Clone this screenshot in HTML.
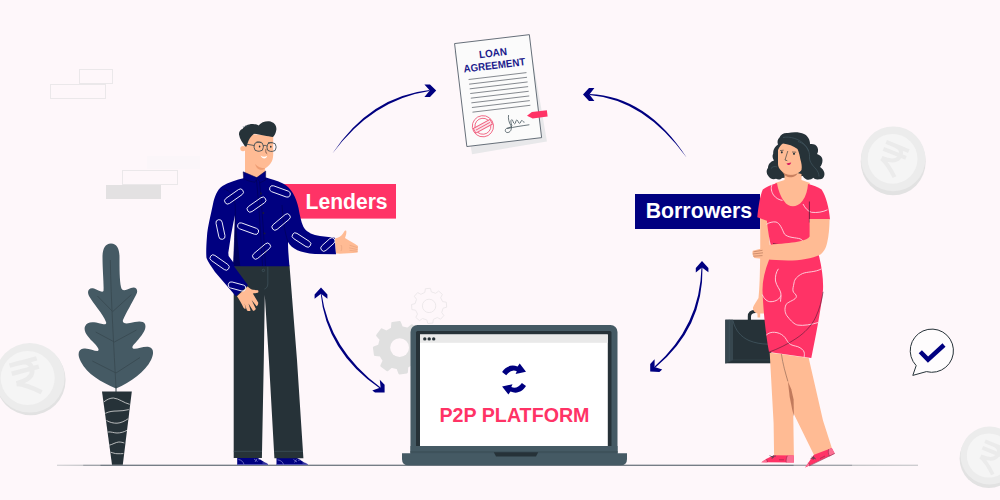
<!DOCTYPE html>
<html>
<head>
<meta charset="utf-8">
<title>P2P Lending</title>
<style>
html,body{margin:0;padding:0;}
body{width:1000px;height:500px;overflow:hidden;background:#fef7fa;font-family:"Liberation Sans",sans-serif;}
svg{display:block;position:absolute;left:0;top:0;}
text{font-family:"Liberation Sans",sans-serif;font-weight:bold;}
</style>
</head>
<body>
<svg width="1000" height="500" viewBox="0 0 1000 500">
<rect width="1000" height="500" fill="#fef7fa"/>

<!-- BRICKS -->
<g id="bricks" fill="none" stroke="#ebe8ea" stroke-width="1">
  <rect x="79.500" y="69.500" width="33" height="14"/>
  <rect x="50.500" y="84.500" width="55" height="14"/>
  <rect x="122.500" y="170.500" width="55" height="14"/>
  <rect x="147" y="156" width="53" height="13" fill="#fbf6f9" stroke="none"/>
  <rect x="106" y="185" width="55" height="14" fill="#e3e1e2" stroke="none"/>
</g>

<!-- COINS -->
<g id="coins">
  <g>
    <ellipse cx="30.600" cy="380" rx="35" ry="35.200" fill="#e2e2e2"/>
    <ellipse cx="29.800" cy="377.800" rx="34.800" ry="34.800" fill="#ececec"/>
    <circle cx="27.700" cy="378" r="27" fill="#f5f5f5"/>
    <path d="M-14 -15 H14 M-14 -6.500 H14 M-14 -15 H-3 C6 -15 8 -9 6.500 -4 C5 2 -2 4 -12 4 M-12 4.500 C-7 6 0 10 10 19" fill="none" stroke="#ebebeb" stroke-width="4.600" stroke-linejoin="bevel" transform="translate(27,376.500) rotate(-15)"/>
  </g>
  <g>
    <ellipse cx="893.200" cy="161.500" rx="32.500" ry="33.800" fill="#e2e2e2"/>
    <ellipse cx="893.200" cy="158.800" rx="32.200" ry="32.400" fill="#ececec"/>
    <circle cx="892.600" cy="158.800" r="24.900" fill="#f5f5f5"/>
    <path d="M-14 -15 H14 M-14 -6.500 H14 M-14 -15 H-3 C6 -15 8 -9 6.500 -4 C5 2 -2 4 -12 4 M-12 4.500 C-7 6 0 10 10 19" fill="none" stroke="#ebebeb" stroke-width="4.600" stroke-linejoin="bevel" transform="translate(892.600,158.600) rotate(22) scale(0.870)"/>
  </g>
  <g>
    <ellipse cx="988.800" cy="458.500" rx="29.200" ry="29.500" fill="#e2e2e2"/>
    <ellipse cx="989.500" cy="455.500" rx="29" ry="29" fill="#ececec"/>
    <circle cx="988.900" cy="455.500" r="22.100" fill="#f5f5f5"/>
    <path d="M-14 -15 H14 M-14 -6.500 H14 M-14 -15 H-3 C6 -15 8 -9 6.500 -4 C5 2 -2 4 -12 4 M-12 4.500 C-7 6 0 10 10 19" fill="none" stroke="#ebebeb" stroke-width="4.600" stroke-linejoin="bevel" transform="translate(991,457) rotate(22) scale(0.820)"/>
  </g>
</g>

<!-- GROUND -->
<defs><linearGradient id="gl" gradientUnits="userSpaceOnUse" x1="57" y1="0" x2="918" y2="0"><stop offset="0" stop-color="#cfcfd2"/><stop offset="0.030" stop-color="#bdbec2"/><stop offset="0.031" stop-color="#8a9096"/><stop offset="0.050" stop-color="#8a9096"/><stop offset="0.051" stop-color="#55606a"/><stop offset="0.855" stop-color="#55606a"/><stop offset="0.856" stop-color="#8a9096"/><stop offset="0.923" stop-color="#8a9096"/><stop offset="0.924" stop-color="#b8babd"/><stop offset="1" stop-color="#c2c3c6"/></linearGradient></defs>
<rect x="57" y="464.700" width="861" height="1.100" fill="url(#gl)"/>

<!-- GEARS -->
<g id="gears">
  <path d="M418.7 340.2 L424.1 340.6 L425.1 347.7 L420.0 349.7 L418.4 355.9 L421.9 360.0 L417.6 365.8 L412.6 363.5 L407.1 366.8 L406.7 372.2 L399.6 373.2 L397.6 368.1 L391.4 366.5 L387.3 370.0 L381.5 365.7 L383.8 360.7 L380.5 355.2 L375.1 354.8 L374.1 347.7 L379.2 345.7 L380.8 339.5 L377.3 335.4 L381.6 329.6 L386.6 331.9 L392.1 328.6 L392.5 323.2 L399.6 322.2 L401.6 327.3 L407.8 328.9 L411.9 325.4 L417.7 329.7 L415.4 334.7 Z" fill="#e0e0e0" stroke="#e0e0e0" stroke-width="2.400" stroke-linejoin="round"/>
  <circle cx="399.600" cy="347.700" r="9.400" fill="#fef7fa"/>
  <path d="M442.6 301.6 L446.3 302.2 L446.7 307.2 L443.1 308.2 L441.7 312.5 L443.9 315.5 L440.6 319.2 L437.3 317.5 L433.4 319.4 L432.8 323.1 L427.8 323.5 L426.8 319.9 L422.5 318.5 L419.5 320.7 L415.8 317.4 L417.5 314.1 L415.6 310.2 L411.9 309.6 L411.5 304.6 L415.1 303.6 L416.5 299.3 L414.3 296.3 L417.6 292.6 L420.9 294.3 L424.8 292.4 L425.4 288.7 L430.4 288.3 L431.4 291.9 L435.7 293.3 L438.7 291.1 L442.4 294.4 L440.7 297.7 Z" fill="none" stroke="#ebe7e9" stroke-width="0.900" stroke-linejoin="round"/>
  <circle cx="429.100" cy="305.900" r="6.700" fill="none" stroke="#ebe7e9" stroke-width="0.900"/>
</g>

<!-- PLANT -->
<g id="plant">
  <path d="M111 243.500 C117 243.500 119.500 249 119.500 257 C119.500 268 119.500 280 121 287 C122 292 126 290 131 288 C136 286 139 290 136 295 C132 303 126 313 123 320 C122 323 125 324 130 323 C136 321.500 143 320 145 324 C147 329 142 335 137 341 C134 344.500 131 347 133 348.500 C136 350 143 346 149 347 C154 348 154 354 151 360 C145 372 131 382 116 388.500 C101 382 87 374 81 362 C77 355 78 349 84 348.500 C89 348 94 351 97.500 351 C100 350.500 98 347 94 343 C89 338 83 332 85 326.500 C87 321 94 322 100 323.500 C104 324.500 107 325 106 322 C103 314 93 303 89 296 C86.500 291 89 287 94 288.500 C98 290 102 293 103.500 291 C104 284 102.500 270 102.500 257 C102.500 249 105 243.500 111 243.500 Z" fill="#455a64"/>
  <g fill="none" stroke="#37474f" stroke-width="0.800">
    <path d="M110.300 260 C111 300 114 350 116 388"/>
    <path d="M97.400 296 L112.700 311.600 L131.400 294.600"/>
    <path d="M95.700 332 L114.400 342 L136.500 330"/>
    <path d="M92.300 361 L116 373 L140 357.500"/>
  </g>
  <path d="M116 386 V392" stroke="#37474f" stroke-width="1"/>
  <path d="M102 391.500 H131.800 L122.800 464.700 H112 Z" fill="#263238"/>
  <g fill="none" stroke="#dcdcdc" stroke-width="0.800">
    <path d="M104 401.800 C107 399.500 110 398 113.400 398 C119 398.500 124 403 129.700 404.300"/>
    <path d="M105.300 413.300 C109 411.500 113 411 117 411 C121 411 125 410.500 128.800 409.600"/>
    <path d="M106.500 420.500 C110 422.500 113.500 423.300 117 423.200 C121 423 125 421 128.200 418.700"/>
    <path d="M107.600 432 C111 431.500 114 433 117 433 C120.500 433 124 432 127 430.300"/>
    <path d="M109.300 445.200 C112.500 444.500 115.500 442.300 118.800 442 C121 442 123 442.500 124.300 443"/>
    <path d="M110.700 452.200 C113 452.800 115 453.700 117 453.700 C119.500 453.800 121.500 453.700 123.400 453.600"/>
  </g>
</g>

<!-- LAPTOP -->
<g id="laptop">
  <rect x="410.500" y="325" width="207" height="134" rx="7" fill="#455a64"/>
  <rect x="416" y="331" width="195.500" height="121" rx="1.500" fill="#263238"/>
  <rect x="420" y="334.500" width="187.800" height="111.500" fill="#ffffff"/>
  <rect x="420" y="334.500" width="187.800" height="8.300" fill="#e9e9e9"/>
  <circle cx="424.800" cy="338.900" r="1.700" fill="#263238"/>
  <circle cx="429.200" cy="338.900" r="1.700" fill="#263238"/>
  <circle cx="433.700" cy="338.900" r="1.700" fill="#263238"/>
  <rect x="410.500" y="446" width="207" height="8" fill="#455a64"/>
  <rect x="410.500" y="451" width="207" height="2.500" fill="#3e525b"/>
  <path d="M402 453.300 H627 V459 Q627 465.300 620.500 465.300 H408.500 Q402 465.300 402 459 Z" fill="#455a64"/>
  <path d="M493.800 452.300 H538.200 L536 456.500 H496 Z" fill="#263238"/>
  <text x="514.500" y="422" font-size="20" fill="#ff3366" text-anchor="middle" textLength="150" lengthAdjust="spacingAndGlyphs">P2P PLATFORM</text>
  <g fill="#000080">
    <path id="sy" d="M502.100 372.100 C505 367 511 363.800 517.600 366.600 L519.700 363.600 L526 371.700 L515.600 373.900 L516.800 371.200 Q511 368.800 506.200 375.300 Z"/>
    <path d="M502.100 372.100 C505 367 511 363.800 517.600 366.600 L519.700 363.600 L526 371.700 L515.600 373.900 L516.800 371.200 Q511 368.800 506.200 375.300 Z" transform="rotate(180 514.050 379.100)"/>
  </g>
</g>

<!-- DOCUMENT -->
<g id="doc" transform="translate(498.100,90.600) rotate(-6.800)">
  <rect x="-37.500" y="-50" width="76" height="104.500" fill="#e8e8ea" transform="translate(1.200,3.800) rotate(-3)"/>
  <rect x="-37.650" y="-51.850" width="75.300" height="103.700" fill="#fbfbfb" stroke="#4a5560" stroke-width="0.800"/>
  <text x="-0.700" y="-34.400" font-size="10.500" fill="#1a1a8c" text-anchor="middle" textLength="28" lengthAdjust="spacingAndGlyphs">LOAN</text>
  <text x="-0.700" y="-22" font-size="10.500" fill="#1a1a8c" text-anchor="middle" textLength="62" lengthAdjust="spacingAndGlyphs">AGREEMENT</text>
  <g stroke="#5a5f68" stroke-width="0.700">
    <line x1="-28" y1="-14.500" x2="30.300" y2="-14.500"/>
    <line x1="-28" y1="-9.800" x2="30.300" y2="-9.800"/>
    <line x1="-28" y1="-5.100" x2="30.300" y2="-5.100"/>
    <line x1="-28" y1="-0.400" x2="30.300" y2="-0.400"/>
    <line x1="-28" y1="4.300" x2="30.300" y2="4.300"/>
    <line x1="-28" y1="9" x2="30.300" y2="9"/>
    <line x1="-28" y1="13.700" x2="30.300" y2="13.700"/>
    <line x1="-28" y1="18.400" x2="30.300" y2="18.400"/>
  </g>
  <g transform="translate(-19.300,33.600)" fill="none" stroke="#f0607f" stroke-width="0.900">
    <circle r="10.600"/>
    <circle r="8"/>
    <g transform="rotate(-22)">
      <rect x="-9.500" y="-2.600" width="19" height="5.200" fill="#fbe3ea"/>
      <line x1="-8" y1="0" x2="8" y2="0"/>
    </g>
  </g>
  <path d="M7.500 25.500 C6.500 29 7 33 8.500 36 C9.500 39 8 42.500 5 42.800 C2 43 1.500 39.500 4 38.500 C7 37.500 9 38.500 9.500 36.500 C9 34 8.500 31 10 30.500 C11.500 30.500 11 34.500 12.500 35 C14 35 13.500 31.500 15 31.500 C16.500 31.500 16 35 17.500 35 C19 35 18.500 32.500 20 32.500 C21 32.500 21 34.500 22.500 34.500 M4.500 38.800 C11 38 20 37.800 27 37.600" fill="none" stroke="#37474f" stroke-width="0.700"/>
  <path d="M25.700 28.500 L31 25.300 L46.100 25.300 L46.100 31.700 L31 31.700 Z" fill="#ff3366"/>
</g>

<!-- ARROWS -->
<g id="arrows" fill="#000080" stroke="none">
  <path d="M332.400 153.600 Q370.200 96.300 429.500 90 L429.500 91 Q372.400 99.700 332.400 153.600 Z"/>
  <path d="M424.400 84.400 L430 84.400 L436.200 90.400 L430 97 L424.400 97 L429.800 90.600 Z"/>
  <path d="M686.600 157.600 Q646.800 96.300 589.500 94 L589.500 95 Q644.600 99.700 686.600 157.600 Z"/>
  <path d="M594.400 88 L589 88 L583 94.400 L589 101 L594.400 101 L589.400 94.500 Z"/>
  <path d="M320.600 293 Q326.200 351.900 380 388.500 L380.600 387.600 Q329.600 349.500 321.400 293 Z"/>
  <path d="M321 287.400 L314.600 294.600 L314.600 298.800 L321 293.800 L327.400 298.800 L327.400 294.600 Z"/>
  <path d="M384.600 392.400 L384.600 384.800 L379.800 379.800 L380.600 387.400 L372.300 390.400 L375 392.600 Z"/>
  <path d="M701.500 267 Q700.200 325.900 654.600 366.600 L655.400 367.400 Q703.600 328.100 702.500 267 Z"/>
  <path d="M702 261 L695.800 268 L695.800 272.400 L702 267.400 L708.400 272.200 L708.400 268 Z"/>
  <path d="M650.200 371.600 L650.200 364 L654.600 359.300 L654.600 367 L662.200 369.600 L659.400 372 Z"/>
</g>

<!-- LABELS -->
<g id="labels">
  <rect x="280" y="184" width="116" height="34.600" fill="#ff3366"/>
  <text x="305.600" y="208.700" font-size="21.200" fill="#fff" textLength="82" lengthAdjust="spacingAndGlyphs">Lenders</text>
  <rect x="635" y="194" width="125" height="35" fill="#000080"/>
  <text x="645.700" y="217.600" font-size="22" fill="#fff" textLength="106.500" lengthAdjust="spacingAndGlyphs">Borrowers</text>
</g>

<!-- MAN -->
<g id="man">
  <!-- shoes -->
  <path d="M237.200 457.500 H257 C260 459 264 462.500 268 464 L268 465 H237.200 Z" fill="#000080"/>
  <path d="M276.500 458 H297 C300 459.500 303.500 462.500 307.600 464 L307.600 465 H276.500 Z" fill="#000080"/>
  <g fill="none" stroke="#9c9cdc" stroke-width="0.600">
    <path d="M237.200 464.600 H268 M276.500 464.600 H307.600"/>
    <path d="M238.500 459.500 C241.500 460 243.500 462 244 464.500 M277.500 459.800 C281 460.300 283 462.300 283.500 464.500"/>
    <path d="M254 459 L257.500 461.500 M257 458.800 L255 462 M258.500 459.800 L261 459.300 M293.500 459.500 L297 462 M296.500 459.300 L294.500 462.500 M298 460.300 L300.500 459.800"/>
    <path d="M262.500 463 H266.500 M302.500 463 H306"/>
  </g>
  <!-- pants -->
  <path d="M233.700 265.500 H289.500 L297 360 L303.400 458.300 H274.400 L268.900 360 L264.800 295 L263.800 360 L261.900 458 H233.700 Z" fill="#263238"/>
  <path d="M233.700 451.300 H262 M274 451.300 H303" stroke="#455a64" stroke-width="0.600" fill="none"/>
  <path d="M267.800 266.600 V284 C267.800 287 266 288.600 264.500 289" stroke="#455a64" stroke-width="0.600" fill="none"/>
  <circle cx="263.400" cy="270.400" r="1.200" fill="none" stroke="#455a64" stroke-width="0.600"/>
  <!-- left hand -->
  <path d="M237 296.300 L247.600 286.400 C249.500 288 251.500 289.500 253 289.800 L258 290.200 C258.800 291.200 258.400 292.600 257.500 292.800 L252.800 293.600 L258.200 302.500 C258.400 304.500 257.600 306 256.600 306.200 L251.600 300 L255.800 308.800 C255.400 310.200 254.400 310.800 253 310.800 L248.500 303.500 L250.600 310.500 C249.800 311.300 248.200 311.200 247 310.400 L244.500 303.500 L245.800 308.600 C245 309 244 308.400 243.400 307.400 C241.500 303.500 239.500 300 237 296.300 Z" fill="#ffbb94"/>
  <!-- neck + face -->
  <path d="M245 140 L245 176 L258 181 L265.300 175 L265 168.400 C268 166.800 270.500 164.200 272 161 C273 158.500 273.200 156 273.200 154 L273.200 136 L250 134 Z" fill="#ffbb94"/>
  <path d="M255 164 C257.500 166.800 261 168.300 265.200 168.300 C263.500 169.900 261 170.100 259.300 169.500 C257.300 168.700 255.800 166.500 255 164 Z" fill="#ee9d73"/>
  <circle cx="243" cy="148.600" r="2.700" fill="#ffbb94"/>
  <!-- hair -->
  <path d="M245 146.500 C243 143 239.500 139 239 134.500 C238.800 131.500 240.500 129.500 242.500 129 C244 126 248.500 123.800 253 124 C255.500 124.200 257.500 124.800 258.600 125.600 C261 122.500 265 121 269 121.300 C274 122 277 125.500 276.300 130 C275.800 133.500 274.500 135.500 273 137 C268 136.500 260 134.500 254 133.800 C251 136 248.500 140 247.500 143.500 L246.600 146.500 Z" fill="#263238"/>
  <path d="M244.500 128 L243 126.200 M246.200 127.200 L245.600 125.200 M247.800 126.600 L248 125" stroke="#455a64" stroke-width="0.500" fill="none"/>
  <!-- face features -->
  <g fill="none" stroke="#37474f" stroke-width="0.850">
    <rect x="254.100" y="142.200" width="9.200" height="9" rx="3.800"/>
    <rect x="267" y="142.800" width="9" height="8.600" rx="3.600"/>
    <path d="M263 146 C264.500 145 266 145.200 267.400 146.500"/>
    <path d="M254.200 145.500 L246.600 144.200"/>
  </g>
  <ellipse cx="259.600" cy="146.600" rx="0.800" ry="1" fill="#263238"/>
  <ellipse cx="270.800" cy="146.800" rx="0.800" ry="1" fill="#263238"/>
  <path d="M266 148.800 C265.600 151 265.400 153 267.200 153.800" fill="none" stroke="#5d4037" stroke-width="0.700"/>
  <path d="M256.500 141.800 L261.500 142.300 M268 142.600 L272.500 142.400" stroke="#37474f" stroke-width="0.700" fill="none"/>
  <path d="M260.600 155.500 C263 157.200 265 157.200 267 155.800 C266.600 159.200 262.300 159.700 260.600 155.500 Z" fill="#ffffff"/>
  <!-- shirt torso -->
  <path d="M244.500 178 C236 180 228 182.500 222.500 186 C217 189.500 214.500 197 213 204 C210.500 216 207.500 228 207 236 C206.200 246 206 254 206.500 258 C208 262 211 266 215 272 L235.900 296.300 L248 285.300 L234 266.200 L289.500 266.200 C288.500 255 288 248 288 242 C292 249 300 252.800 315 254 L336 254.200 L334.800 237.800 L320 236 C313 235 307.500 232.500 304.500 228.500 C301.500 224 300 216 298.500 208 C296.500 198 291 187 283 183.500 C277 180.500 271 179 266 177.500 Z" fill="#000080"/>
  <path d="M235 215 L240.300 266 L233.900 266 Z" fill="#00005c"/>
  <path d="M235 215.200 L234.500 232 L233.900 254.400 L233.400 262.600 L228.600 256 L228.300 252.800 L231 235.200 L233.400 222.400 Z" fill="#fef7fa"/>
  <!-- shirt lines -->
  <g fill="none" stroke="#000050" stroke-width="0.600">
    <path d="M223.500 189 C230 190 234 196 235 204 C236 215 234.500 240 233.400 264"/>
    <path d="M256.500 180 C259 205 261 240 262.500 266"/>
    <path d="M259.500 182 C262 205 264 240 265.500 266"/>
    <path d="M282 205 C283 218 284 230 288 242"/>
  </g>
  <!-- collar -->
  <path d="M243.200 171.800 L256.800 177.600 L265.700 171 L265.600 180 L260.500 182.600 L257 178.300 L254.800 182.300 L249 181 L243.600 178.800 Z" fill="#000080" stroke="#05054a" stroke-width="0.500" stroke-linejoin="round"/>
  <g fill="#1a1a3a">
    <circle cx="261" cy="193.500" r="0.900"/><circle cx="263.400" cy="213" r="0.900"/><circle cx="264.600" cy="233.400" r="0.900"/><circle cx="265.500" cy="252" r="0.900"/>
  </g>
  <!-- pills -->
  <g fill="none" stroke="#ededfa" stroke-width="0.900">
    <rect x="-10.8" y="-3.100" width="21.6" height="6.200" rx="3.100" transform="translate(234.0,196.5) rotate(-35)"/>
    <rect x="-10.8" y="-3.100" width="21.7" height="6.200" rx="3.100" transform="translate(279.9,191.4) rotate(20)"/>
    <rect x="-10.8" y="-3.100" width="21.6" height="6.200" rx="3.100" transform="translate(256.5,204.6) rotate(-35)"/>
    <rect x="-10.0" y="-3.100" width="20.0" height="6.200" rx="3.100" transform="translate(220.5,229.5) rotate(78)"/>
    <rect x="-11.0" y="-3.100" width="22.0" height="6.200" rx="3.100" transform="translate(248.1,228.6) rotate(20)"/>
    <rect x="-11.0" y="-3.100" width="22.0" height="6.200" rx="3.100" transform="translate(281.1,222.0) rotate(-40)"/>
    <rect x="-10.5" y="-3.100" width="21.0" height="6.200" rx="3.100" transform="translate(301.5,240.0) rotate(33)"/>
    <rect x="-10.8" y="-3.100" width="21.5" height="6.200" rx="3.100" transform="translate(261.6,251.1) rotate(-40)"/>
    <rect x="-11.0" y="-3.100" width="22.0" height="6.200" rx="3.100" transform="translate(219.6,262.5) rotate(35)"/>
    <rect x="-8.5" y="-3.100" width="17.0" height="6.200" rx="3.100" transform="translate(327.9,244.5) rotate(-42)"/>
    <rect x="-9.0" y="-3.100" width="18.0" height="6.200" rx="3.100" transform="translate(237.0,286.5) rotate(15)"/>
  </g>
  <!-- right hand -->
  <path d="M335 238.500 C338.500 238 341.500 236 343 233.500 C344 232 344.800 230.200 345.800 230.600 C347 231.200 346.200 235 345 238 C349 240.500 354.500 243.500 358 246 L357.600 252.600 C350 253.500 342 253.800 336 253.600 Z" fill="#ffbb94"/>
  <path d="M349.500 245.200 L357.500 247.600 M349 247.800 L357.600 249.600 M349.500 250.300 L357.600 251.400 M341 245 C342 247 342 249 341 251" stroke="#df9a76" stroke-width="0.500" fill="none"/>
</g>

<!-- WOMAN -->
<g id="woman">
  <!-- hair back -->
  <path d="M788 133 C784 132.500 780.500 134.500 779.500 137.500 C777.500 139.500 777 142 778 144.500 C775.500 146 773 149.500 773.200 153.500 C772 155.500 772.500 158.500 774 160.500 C770.500 161.500 768 164.500 768 168 C766 170 766.500 173.500 768 175.500 C769.500 178.500 773 180 776 178.800 C778 180 780.500 179.800 782 178 L803 176 C803 176.500 803.500 177.500 805 178.500 C807 180.500 811 180 813.500 177.800 C814.500 179 816.500 180 819 179.200 C821.500 179.800 824 178 824.400 175 C825 172 823 169 820 167 C821.500 165.500 822.500 163 822.500 160 C822.500 157 820 155 817 154 C818 152.500 818.500 150 817.500 147.500 C816.500 144.500 813 143.500 810 144 C810 140 808 136 804 134 C800 132 793 132 788 133 Z" fill="#263238"/>
  <g fill="none" stroke="#455a64" stroke-width="0.600">
    <path d="M783 137.500 C790 136 799 139 804 144 C808 148 810 153 809.500 158 C809.500 162 813 166 816 169 C818 171.500 819 174 819 176.500"/>
    <path d="M798 141.500 C803 143 807 146.500 808.500 151"/>
    <path d="M771 168.500 C772.500 166.500 775 166 777 167"/>
  </g>
  <!-- briefcase -->
  <path d="M749.400 320 V316.500 C749.400 312.800 752 311.300 755.500 311.300 H764" fill="none" stroke="#263238" stroke-width="3.200"/>
  <rect x="725.300" y="319.700" width="46" height="43.600" fill="#263238"/>
  <path d="M725.300 319.700 H733 V360 L725.300 363.300 Z" fill="#37474f"/>
  <path d="M729.200 319.700 V361.500" stroke="#455a64" stroke-width="0.600"/>
  <path d="M725.300 363.300 L733 360 H770" stroke="#37474f" stroke-width="0.600" fill="none"/>
  <path d="M733 320.600 C735 330 741 337 749 340.500 C755 343 761 344 768 344.200" fill="none" stroke="#455a64" stroke-width="0.700"/>
  <!-- left arm -->
  <path d="M760.200 217 L768 220 L771 262 L766 290 L764.500 313.500 L760.200 313.500 L760.200 317.500 L757.600 317.500 L757.400 313.500 C754.500 312.500 752.600 310 753 307.500 C754 304.500 756.500 301.500 758.500 298 C760 285 760.400 260 760.200 217 Z" fill="#ffbb94"/>
  <!-- legs -->
  <path d="M781 354 L808.700 358 L823 420.400 L832 448.500 L814.500 456 L793.100 412.600 Z" fill="#ffbb94"/>
  
  <path d="M769.700 352.800 L781.400 354.100 C783 365 785.500 373 787.900 381.400 C790 390 792 398 793.100 404.800 L793.900 456 L774.100 456 L773.600 423 Z" fill="#ffbb94"/>
  <path d="M781.400 354.100 C783 365 785.500 373 787.900 381.400" fill="none" stroke="#6b4a3c" stroke-width="0.500"/>
  <path d="M787.900 381.400 L791.300 389.200 L793.600 399.600 L793.900 416.500 L792.300 410 L789.700 397 Z" fill="#c17a5c"/>
  <!-- shoes -->
  <path d="M761.300 462.300 C765 459.800 769 457.200 773.900 455.300 L793.700 455.600 L793.900 462.500 Z" fill="#ff3366"/>
  <path d="M787.400 455.600 L793.700 455.600 L793.900 462.500 L786 462.500 C786 459.500 786.500 457 787.400 455.600 Z" fill="#fb6f93"/>
  <path d="M761.300 462.300 L766.500 459 L767.500 462.400 Z" fill="#fb6f93"/>
  <path d="M787.400 455.800 C786.300 457.500 786 460 786.200 462.300 M766.500 459 L767.500 462 M779 459.800 H784" stroke="#7a2140" stroke-width="0.500" fill="none"/>
  <path d="M769.500 455.600 L773.800 457.600 M773.800 455.200 L771.800 459 M771 456.800 L776 456" stroke="#37474f" stroke-width="0.600"/>
  <path d="M805.200 467.500 L811.800 457.500 L814 454.800 L831.800 447.900 L834.700 453.500 Z" fill="#ff3366"/>
  <path d="M828.600 449.200 L831.800 447.900 L834.700 453.500 L829.500 456.400 C828.200 454 828 451.300 828.600 449.200 Z" fill="#fb6f93"/>
  <path d="M805.200 467.500 L808.400 462.700 L809.800 464.900 Z" fill="#fb6f93"/>
  <path d="M828.600 449.200 C828 451.500 828.300 454 829.500 456.200 M808.400 462.700 L809.800 464.900 M820 458.500 L825 456 M834.700 453.500 L809 466" stroke="#7a2140" stroke-width="0.500" fill="none"/>
  <path d="M810.500 458.500 L815 457.800 M813.500 455.800 L813 460 M811.500 457 L816 459" stroke="#37474f" stroke-width="0.600"/>
  <!-- neck + chest -->
  <path d="M784.500 170 L784.500 180 L775 183 L777 200 L785 208 L800 208 L808 200 L810 183 L801.500 180 L801.500 174 Z" fill="#ffbb94"/>
  <path d="M782.500 171.500 C786 175 794 175.500 798 172 C797 175.800 794 177.300 790.500 177.300 C787 177.300 784 175.500 782.500 171.500 Z" fill="#c9805f"/>
  <!-- face -->
  <path d="M778 150 C779.500 147 781 144.500 783 143.500 C788 144 793.500 146 797.500 149 C799 152 799.800 156 800.300 159 C801.500 163 802.200 166.500 801.500 170 C799.500 173 795 175 790.500 174.800 C786.500 174.600 783 173 781 170.500 C779.200 168.500 778 166.500 778 164 Z" fill="#ffbb94"/>
  <ellipse cx="781.800" cy="152.300" rx="1" ry="1.100" fill="#263238"/>
  <ellipse cx="794" cy="153.800" rx="1" ry="1.100" fill="#263238"/>
  <path d="M780 150.600 L783.600 150.200 M792 152 L796.200 152.200" stroke="#263238" stroke-width="0.600"/>
  <path d="M787.800 151 L785 160 L787.300 160.700" fill="none" stroke="#263238" stroke-width="0.600"/>
  <path d="M786.400 163.400 C788 163 789.500 163 791.200 162.600 C790.500 165 788.500 166 786.400 163.400 Z" fill="#d81b60"/>
  <!-- dress -->
  <path d="M777 183 C771 185 766 187 762.800 189.600 C760 196 758.500 206 757.300 217.200 L766.900 220.800 C768 232 770 244 772.400 250 L768.800 260.400 C765 270 762.500 280 762.500 290 C763 305 765 330 769 352.100 L811.300 358 C815 340 821 310 823 290 C823.500 280 822 268 819.200 256.800 L815 245 C812 235 810 225 809.600 219.200 L830 219.200 C829 208 826 196 821.600 189.600 C818 187 813 185 808 184 C807.600 190 806 196.500 802.400 201 C799.500 204.800 796 206.200 793 206.200 C789.500 206.200 786.500 204.800 784 201 C780.500 196.500 778 189.500 777 183 Z" fill="#ff3366"/>
  <!-- dress lines -->
  <g fill="none" stroke="#fdd9e3" stroke-width="0.900">
    <path d="M772 184.800 C770.500 188 771.500 192 773.500 195 C776 198.500 779.500 200 782.500 200.400"/>
    <path d="M803 204 C805 208 808 211.500 811.500 212.300 C817 213 823 212 827.500 209.800"/>
    <path d="M766.400 224.400 C769 222.500 773 221.500 776 222 C780 223 782 229 784.400 234 C788 238 796 237.500 800 238.800 C801.500 239.500 802.500 240.300 802.900 241.200"/>
    <path d="M778.400 268.800 C776 272 775 277 775.500 281 C776.500 286 780 289 780.800 293 C781.400 297 780.500 299 780.500 301.700 M762.200 294.500 C764 299 767.500 302 771 301.700 C776 301.500 780 299 780.800 295.400"/>
    <path d="M821.600 268.800 C815 272.500 807 271.500 802.400 273.600 C797.500 276 794.500 279 794 283 C793.500 286.500 792.500 288.500 793 291 C793.500 293.500 796.500 294 796.400 296.500 C796 300 789 301 786.100 304.400 C784 309 785 314 787.900 317 C791 321 794.500 324.500 797.800 325.100 C803 326 812 324.500 818.500 322.400"/>
    <path d="M766.300 335 C768.500 333 771.500 332 774.400 332.300 C778 332.500 781 333.800 783.400 335.900 C786 338 786.800 341 788.800 343.100 C791 345.500 795 345.800 797.800 346.700 C801 348 803.500 350 804.100 352.100 C804.600 354 804.400 355.500 804.100 357"/>
  </g>
  <path d="M823 291.800 C822 300 819.500 309 815.800 317 C811.500 326 804.500 333 796 338.600 C788 344 778 349 769 352.100" fill="none" stroke="#6d1f3e" stroke-width="0.700"/>
  <path d="M809.400 201.500 V222.500" stroke="#5a1a35" stroke-width="0.800"/>
  <path d="M773 243.400 C777 244.600 782 245 786 244.800" fill="none" stroke="#7a2140" stroke-width="0.900"/>
  <!-- right arm -->
  <path d="M809.600 219 L829.600 219 C829.400 228 828.800 236 827.200 242.400 C825.800 249 823 252.500 820.400 254.400 C812 258.500 800 260.400 788 260.400 C780 260.400 772 259.800 766.400 259.200 L754.400 258 C752.500 256 752 252.500 752.800 250.800 L761.600 248.400 C766 246 770 244.800 773.600 244.300 C785 243.500 794 242.500 800 241.200 C805 240 808.500 238.500 809.600 236.400 Z" fill="#ffbb94"/>
  <path d="M753.500 251.800 L762.500 250.300 M752.800 254 L763 252.800 M753.300 256.200 L762.500 255.600" stroke="#b97a5c" stroke-width="0.700"/>
</g>


<!-- BUBBLE -->
<g id="bubble">
  <path d="M916.200 365.600 A21.600 21.600 0 1 1 926.400 371.600 L912.800 375.400 Z" fill="#fefcfd" stroke="#263238" stroke-width="1" stroke-linejoin="round"/>
  <path d="M920.300 351.700 L928 359.600 L944 345" fill="none" stroke="#000080" stroke-width="4.500"/>
</g>
</svg>
</body>
</html>
